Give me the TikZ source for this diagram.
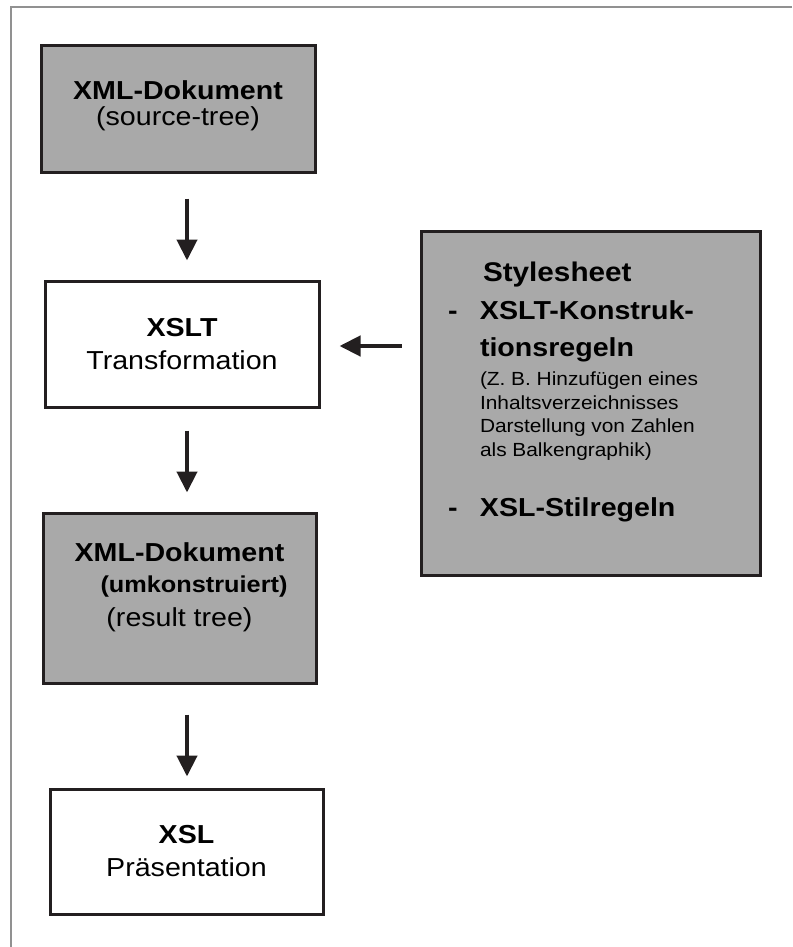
\documentclass[tikz,border=0pt]{standalone}
\usepackage{fontspec}
\setmainfont{Liberation Sans}[FakeStretch=1.1]
\usepackage{tikz}
\usetikzlibrary{arrows.meta}

\setlength{\parindent}{0pt}
\definecolor{boxgray}{RGB}{169,169,169}
\definecolor{inkblack}{RGB}{35,31,32}
\definecolor{framegray}{RGB}{145,145,145}
% one line of box text: size, distance to the line above, text
\newcommand{\txtline}[3]{{\fontsize{#1}{#2}\selectfont\spaceskip=.3em\xspaceskip=.3em #3\par}}

\begin{document}
\begin{tikzpicture}[x=1pt,y=-1pt,line join=miter,
    box/.style={draw=inkblack,line width=3pt,inner sep=0pt,
        minimum width=274pt,minimum height=126pt,text width=260pt,align=center},
    darkbox/.style={box,fill=boxgray},
    flow/.style={-{Triangle[length=21pt,width=20pt]},line width=4.3pt,draw=inkblack}]
            \useasboundingbox (0,0) rectangle (792,947);
            \draw[framegray,line width=2pt] (11,947) -- (11,7) -- (792,7);

            \node[darkbox] (srcdoc) at (178,109)
            {\txtline{26}{26}{\bfseries XML-Dokument}\txtline{26}{26}{(source-tree)\rule[-12pt]{0pt}{1pt}}};

            \node[box] (xslt) at (182,344)
            {\txtline{26}{33}{\bfseries XSLT}\txtline{26}{33}{Transformation}};

            \node[darkbox,minimum width=273pt,minimum height=170pt] (resdoc) at (179.5,598)
            {\txtline{26}{31}{\bfseries XML-Dokument}\txtline{23}{31}{\bfseries\hspace*{29pt}(umkonstruiert)}%
             \txtline{26}{34}{(result tree)\rule[-27pt]{0pt}{1pt}}};

            \node[box,minimum width=273pt,minimum height=125pt] (xsl) at (186.5,851.5)
            {\txtline{26}{33}{\bfseries XSL}\txtline{26}{33}{Präsentation}};

            \node[darkbox,minimum width=339pt,minimum height=344pt,text width=285pt,align=left] (sheet) at (590.5,403)
            {\txtline{27}{27}{\bfseries\hspace*{35pt}Stylesheet}
             \txtline{26}{38}{\bfseries\makebox[32pt][l]{-}XSLT-Konstruk-}
             \txtline{26}{37}{\bfseries\hspace*{32pt}tionsregeln}
             \txtline{19}{29}{\hspace*{32pt}(Z. B. Hinzufügen eines}
             \txtline{19}{23.5}{\hspace*{32pt}Inhaltsverzeichnisses}
             \txtline{19}{23.5}{\hspace*{32pt}Darstellung von Zahlen}
             \txtline{19}{23.5}{\hspace*{32pt}als Balkengraphik)}
             \txtline{26}{60}{\bfseries\makebox[32pt][l]{-}XSL-Stilregeln\rule[-28pt]{0pt}{1pt}}};

            \coordinate (axis) at (187,0);
            \draw[flow,shorten <=25pt,shorten >=19pt] (srcdoc.south -| axis) -- (xslt.north -| axis);
            \draw[flow,shorten <=22pt,shorten >=19pt] (xslt.south -| axis) -- (resdoc.north -| axis);
            \draw[flow,shorten <=30pt,shorten >=11pt] (resdoc.south -| axis) -- (xsl.north -| axis);
            \draw[flow,shorten <=18pt,shorten >=19pt] ([yshift=-2pt]xslt.east -| sheet.west) -- ([yshift=-2pt]xslt.east);
        \end{tikzpicture}
\end{document}
